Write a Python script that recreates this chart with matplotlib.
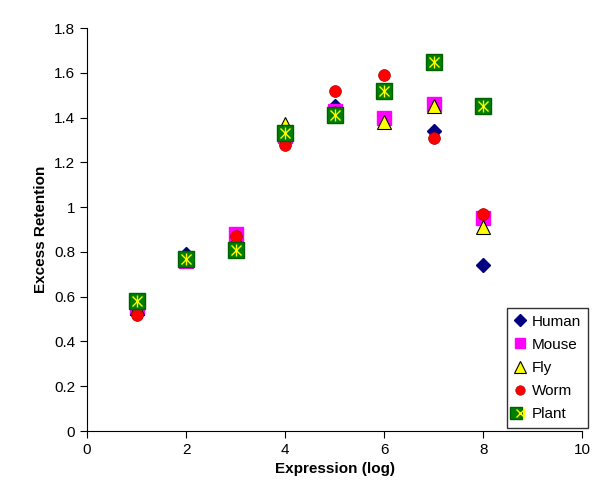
import numpy as np
import matplotlib.pyplot as plt
from matplotlib.legend_handler import HandlerTuple

plt.rcParams['font.family'] = ['Liberation Sans', 'DejaVu Sans']

x = [1, 2, 3, 4, 5, 6, 7, 8]
human = [0.55, 0.79, 0.87, 1.34, 1.45, 1.39, 1.34, 0.74]
mouse = [0.55, 0.76, 0.88, 1.32, 1.43, 1.40, 1.46, 0.95]
fly = [0.55, 0.78, 0.86, 1.37, 1.42, 1.38, 1.45, 0.91]
worm = [0.52, 0.77, 0.87, 1.28, 1.52, 1.59, 1.31, 0.97]
plant = [0.58, 0.77, 0.81, 1.33, 1.41, 1.52, 1.65, 1.45]

fig = plt.figure(figsize=(6.04, 4.94), dpi=100)
ax = fig.add_axes([0.144, 0.1275, 0.82, 0.8155])

h1, = ax.plot(x, human, 'D', ms=7.5, color='#000080', mec='#000080', ls='none')
h2, = ax.plot(x, mouse, 's', ms=9.5, color='#FF00FF', mec='#FF00FF', ls='none')
h3, = ax.plot(x, fly, '^', ms=10, color='#FFFF00', mec='black', mew=0.8, ls='none')
h4, = ax.plot(x, worm, 'o', ms=8.5, color='#FF0000', mec='#B00000', mew=0.5, ls='none')
h5, = ax.plot(x, plant, 's', ms=11, color='#008000', mec='#006000', ls='none')
h5b, = ax.plot(x, plant, 'x', ms=7, color='#FFFF00', mew=1.0, ls='none')
h5c, = ax.plot(x, plant, '|', ms=9, color='#FFFF00', mew=1.0, ls='none')

ax.set_xlim(0, 10)
ax.set_ylim(0, 1.8)
ax.set_xticks(np.arange(0, 11, 2))
ax.set_yticks(np.arange(0, 1.81, 0.2))
ax.set_yticklabels(['0', '0.2', '0.4', '0.6', '0.8', '1', '1.2', '1.4', '1.6', '1.8'])
ax.tick_params(direction='out', length=5, labelsize=11)
for s in ['top', 'right']:
    ax.spines[s].set_visible(False)
ax.set_xlabel('Expression (log)', fontsize=11, fontweight='bold')
ax.set_ylabel('Excess Retention', fontsize=11, fontweight='bold')

leg = ax.legend([h1, h2, h3, h4, (h5, h5b, h5c)], ['Human', 'Mouse', 'Fly', 'Worm', 'Plant'],
                handler_map={tuple: HandlerTuple(ndivide=None, pad=0)},
                loc='lower right', bbox_to_anchor=(1.012, 0.007), borderaxespad=0,
                fontsize=11, frameon=True, fancybox=False, edgecolor='black',
                handlelength=0.8, handletextpad=0.4, labelspacing=0.6,
                borderpad=0.45, markerscale=0.8)
leg.get_frame().set_linewidth(1.0)

fig.savefig('out.png', dpi=100)
